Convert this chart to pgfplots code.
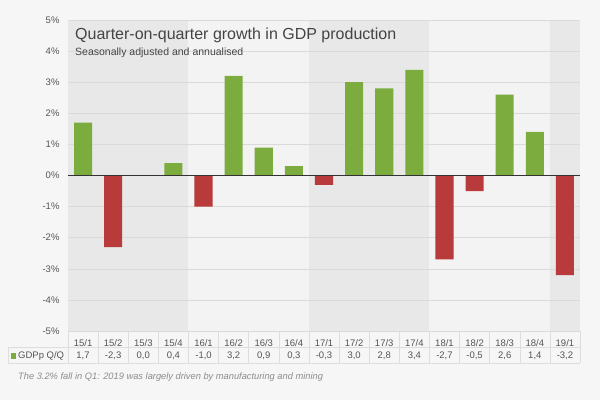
\documentclass[border=0pt]{standalone}
\usepackage{pgfplots}
\pgfplotsset{compat=1.18}
\usepackage{fontspec}
\setmainfont{Liberation Sans}
\definecolor{pagebg}{HTML}{F6F6F6}
\definecolor{bandgray}{HTML}{E8E8E8}
\definecolor{bandlight}{HTML}{F3F3F3}
\definecolor{gridc}{HTML}{DADADA}
\definecolor{barg}{HTML}{7CAC3E}
\definecolor{barr}{HTML}{B83A3A}
\definecolor{txt}{HTML}{555555}
\definecolor{ttl}{HTML}{444444}
\definecolor{tline}{HTML}{DDDDDD}
\tikzset{tabtxt/.style={font=\fontsize{9.5}{10}\selectfont, text=txt}}
\begin{document}
\begin{tikzpicture}[x=1pt,y=1pt]
% page background (defines 600x400 size)
\fill[pagebg] (-68,-69) rectangle (532,331);
% year bands
\def\bw{30.1176}
\fill[bandgray]  (0,0) rectangle (4*\bw,311);
\fill[bandlight] (4*\bw,0) rectangle (8*\bw,311);
\fill[bandgray]  (8*\bw,0) rectangle (12*\bw,311);
\fill[bandlight] (12*\bw,0) rectangle (16*\bw,311);
\fill[bandgray]  (16*\bw,0) rectangle (17*\bw,311);
% table lines
\foreach \i in {0,...,17} {
  \draw[tline, line width=0.5pt] (\i*\bw,0) -- ++(0,-32);
}
\draw[tline, line width=0.5pt] (-60,-16) -- (512,-16);
\draw[tline, line width=0.5pt] (-60,-32) -- (512,-32);
\draw[tline, line width=0.5pt] (-60,-16) -- (-60,-32);
\foreach \i/\v in {0/{1,7},1/{-2,3},2/{0,0},3/{0,4},4/{-1,0},5/{3,2},6/{0,9},7/{0,3},8/{-0,3},9/{3,0},10/{2,8},11/{3,4},12/{-2,7},13/{-0,5},14/{2,6},15/{1,4},16/{-3,2}} {
  \node[tabtxt] at ({(\i+0.5)*\bw},-25) {\v};
}
\begin{axis}[
  at={(0,0)}, anchor=south west,
  scale only axis, width=512pt, height=311pt,
  xmin=-0.5, xmax=16.5, ymin=-5, ymax=5,
  clip=false,
  axis line style={draw=none},
  tick style={draw=none},
  ytick={-5,-4,-3,-2,-1,0,1,2,3,4,5},
  yticklabels={-5\%,-4\%,-3\%,-2\%,-1\%,0\%,1\%,2\%,3\%,4\%,5\%},
  yticklabel style={font=\fontsize{9.5}{10}\selectfont, text=txt, xshift=-5pt},
  ymajorgrids, grid style={gridc, line width=0.6pt},
  xtick={0,...,16},
  xticklabels={15/1,15/2,15/3,15/4,16/1,16/2,16/3,16/4,17/1,17/2,17/3,17/4,18/1,18/2,18/3,18/4,19/1},
  xticklabel style={font=\fontsize{9.5}{10}\selectfont, text=txt, anchor=center, yshift=-8pt},
  ybar, bar width=0.6, bar shift=0pt,
]
\addplot[fill=barg, draw=none] coordinates {(0,1.7) (2,0.0) (3,0.4) (5,3.2) (6,0.9) (7,0.3) (9,3.0) (10,2.8) (11,3.4) (14,2.6) (15,1.4)};
\addplot[fill=barr, draw=none] coordinates {(1,-2.3) (4,-1.0) (8,-0.3) (12,-2.7) (13,-0.5) (16,-3.2)};
\draw[black!80, line width=1.4pt] (axis cs:-0.5,0) -- (axis cs:16.5,0);
\end{axis}
% table label
\fill[barg] (-57,-28) rectangle (-52,-22);
\node[anchor=west, tabtxt, inner sep=0pt] at (-50,-25) {GDPp Q/Q};
% titles
\node[anchor=west, font=\fontsize{16}{17}\selectfont, text=ttl, inner sep=0pt] at (7,296) {Quarter-on-quarter growth in GDP production};
\node[anchor=west, font=\fontsize{10.5}{11}\selectfont, text=ttl, inner sep=0pt] at (7,278) {Seasonally adjusted and annualised};
% footnote
\node[anchor=west, font=\fontsize{9.3}{10}\selectfont\itshape, text=black!45, inner sep=0pt] at (-50,-46) {The 3.2\% fall in Q1: 2019 was largely driven by manufacturing and mining};
\end{tikzpicture}
\end{document}
